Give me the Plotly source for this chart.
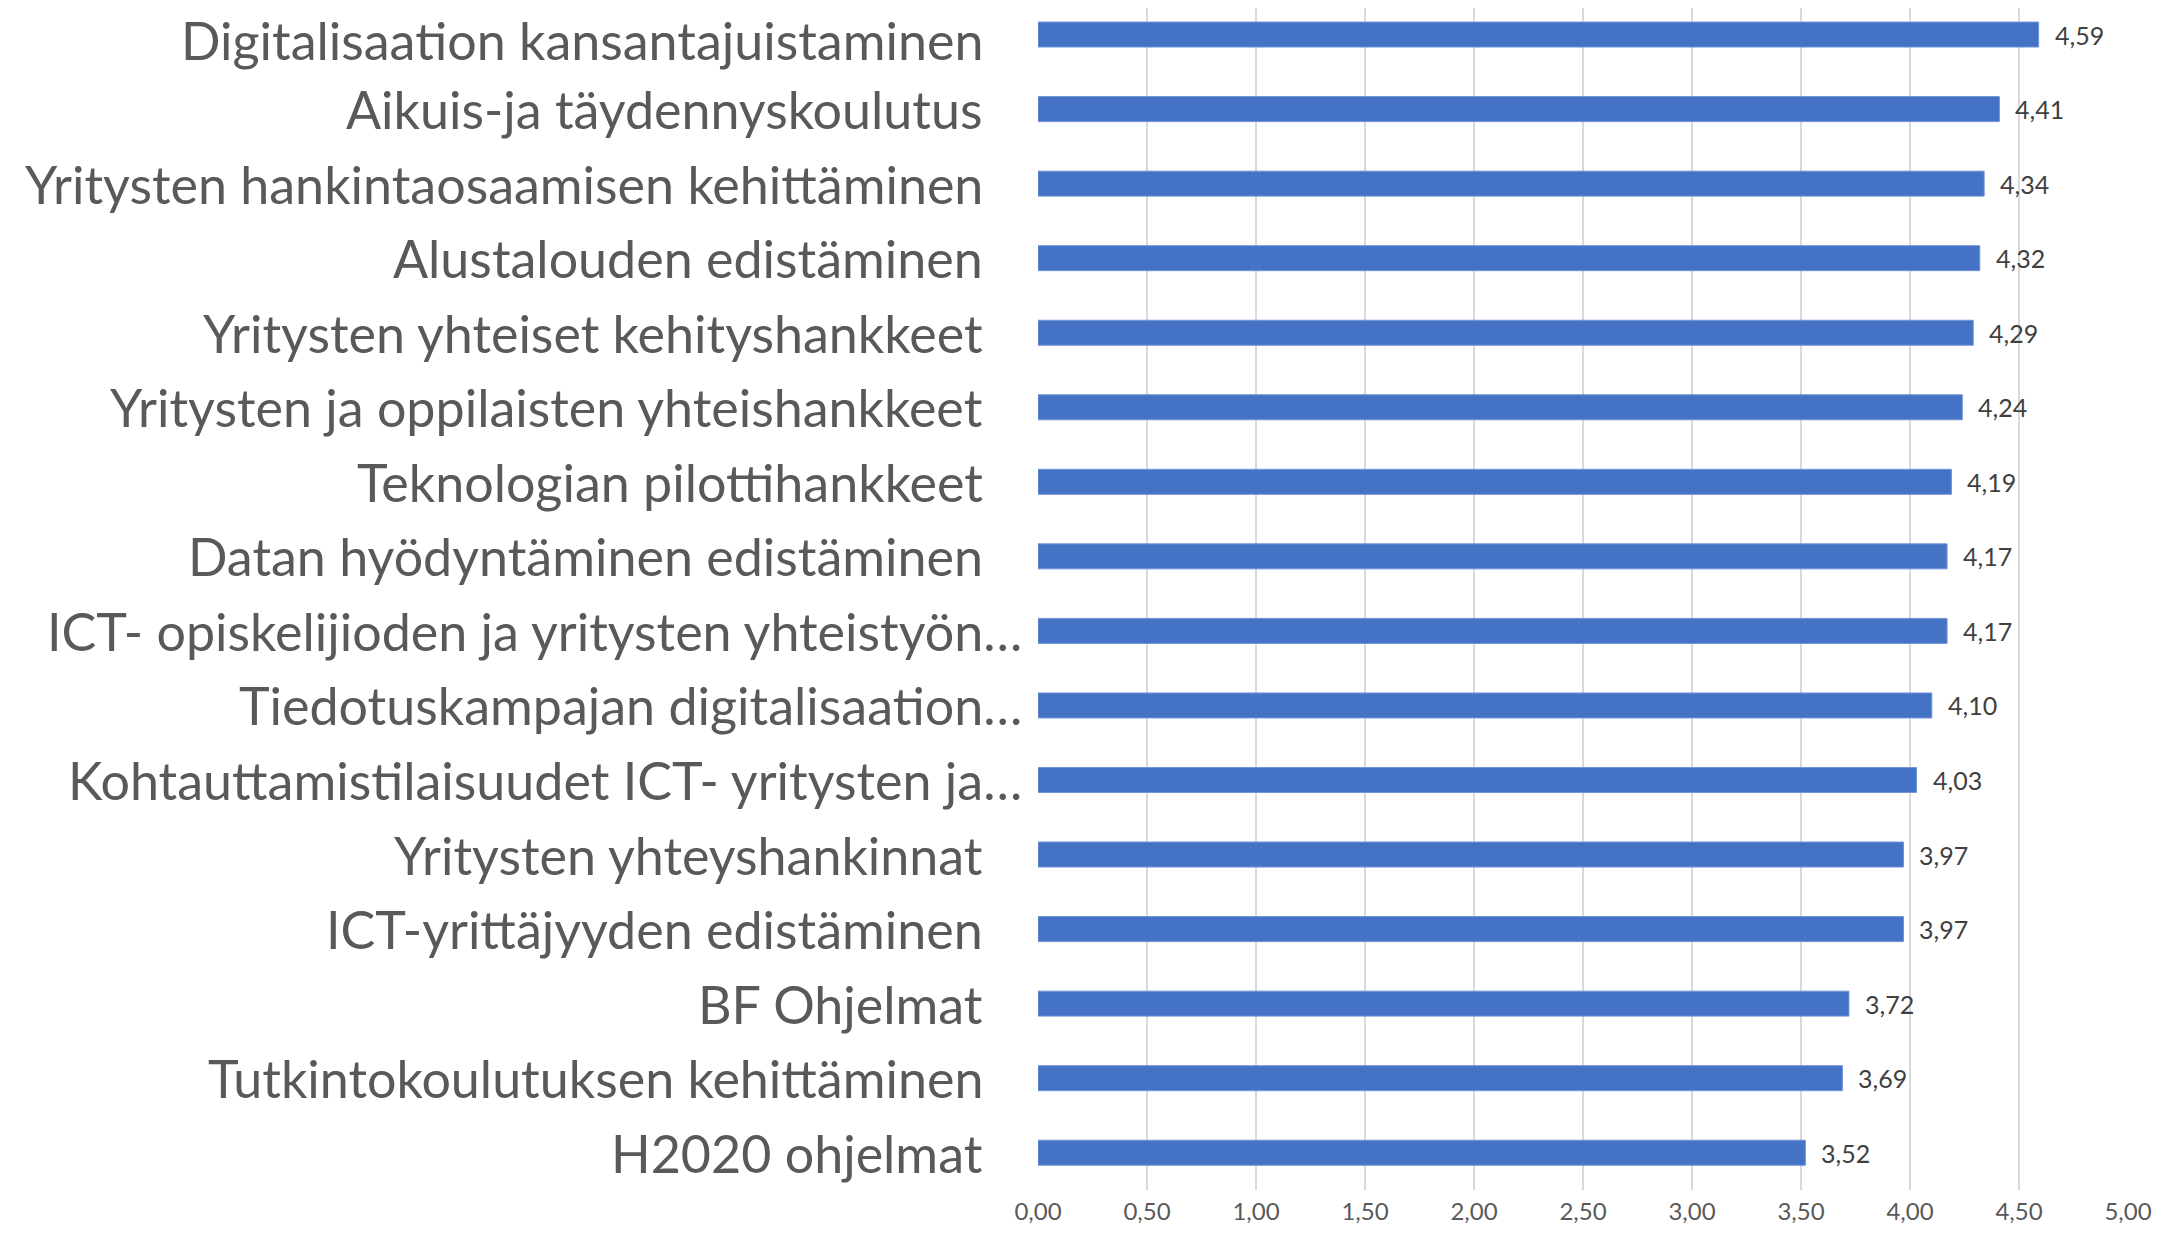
import plotly.graph_objects as go

categories = [
    "Digitalisaation kansantajuistaminen",
    "Aikuis-ja täydennyskoulutus",
    "Yritysten hankintaosaamisen kehittäminen",
    "Alustalouden edistäminen",
    "Yritysten yhteiset kehityshankkeet",
    "Yritysten ja oppilaisten yhteishankkeet",
    "Teknologian pilottihankkeet",
    "Datan hyödyntäminen edistäminen",
    "ICT- opiskelijioden ja yritysten yhteistyön…",
    "Tiedotuskampajan digitalisaation…",
    "Kohtauttamistilaisuudet ICT- yritysten ja…",
    "Yritysten yhteyshankinnat",
    "ICT-yrittäjyyden edistäminen",
    "BF Ohjelmat",
    "Tutkintokoulutuksen kehittäminen",
    "H2020 ohjelmat",
]
values = [4.59, 4.41, 4.34, 4.32, 4.29, 4.24, 4.19, 4.17, 4.17, 4.10, 4.03, 3.97, 3.97, 3.72, 3.69, 3.52]
truncated = [c.endswith("…") for c in categories]
tick_values = [0, 0.5, 1, 1.5, 2, 2.5, 3, 3.5, 4, 4.5, 5]

W, H = 2148, 1223
L, R, T, B = 1030, 28, 0, 41
plot_w = W - L - R

fig = go.Figure(go.Bar(
    x=values, y=categories, orientation="h",
    marker=dict(color="#4472C4", line=dict(color="#6f93d6", width=1)),
    width=0.335,
    hoverinfo="x+y",
))

annotations = []
for i, (c, t) in enumerate(zip(categories, truncated)):
    gap = 14 if t else 53
    annotations.append(dict(
        x=-gap / plot_w, xref="paper", y=c, yref="y",
        text=c, showarrow=False, xanchor="right", yanchor="middle",
        yshift=-5 if i == 0 else 0,
        font=dict(family="Lato", size=52, color="#595959"),
    ))
for c, v in zip(categories, values):
    annotations.append(dict(
        x=v, xref="x", y=c, yref="y",
        text=f"{v:.2f}".replace(".", ","), showarrow=False,
        xanchor="left", yanchor="middle", xshift=14,
        font=dict(family="Lato", size=25, color="#404040"),
    ))

fig.update_layout(
    width=W, height=H,
    margin=dict(l=L, r=R, t=T, b=B, autoexpand=False),
    plot_bgcolor="white", paper_bgcolor="white",
    separators=", ",
    showlegend=False,
    annotations=annotations,
    xaxis=dict(
        range=[0, 5], tickvals=tick_values, tickformat=".2f",
        showgrid=True, gridcolor="#D9D9D9", gridwidth=2,
        zeroline=False, showline=False, automargin=False,
        tickfont=dict(family="Lato", size=24, color="#595959"),
        ticks="", ticklabelstandoff=5,
    ),
    yaxis=dict(
        categoryorder="array", categoryarray=categories[::-1],
        showticklabels=False, showgrid=False, zeroline=False, showline=False,
        automargin=False,
        range=[-0.5, len(categories) - 1 + 0.356],
    ),
)

fig.write_html("out.html")
